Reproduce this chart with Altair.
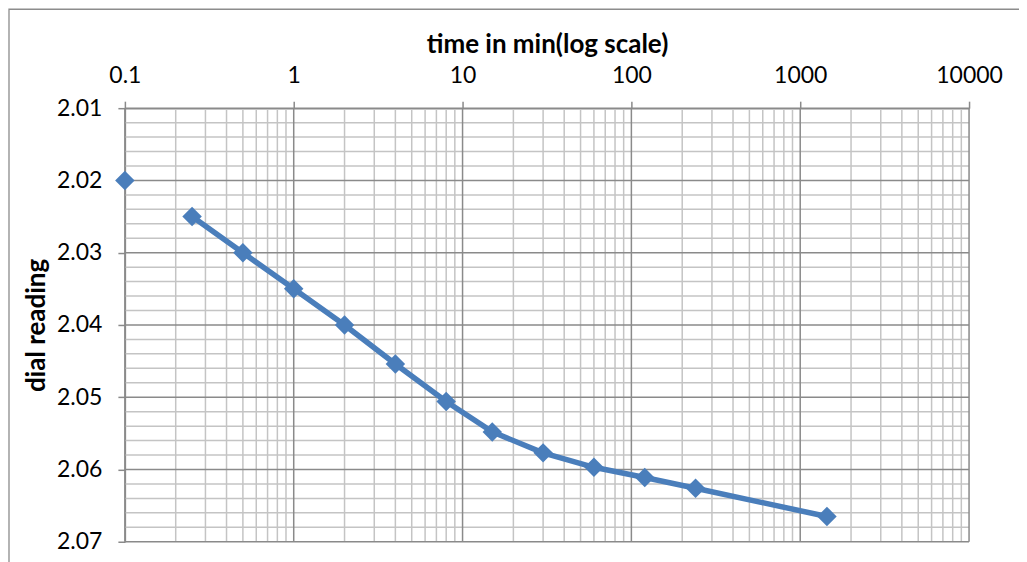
import altair as alt
import pandas as pd

# data
times = [0.1, 0.25, 0.5, 1, 2, 4, 8, 15, 30, 60, 120, 240, 1440]
readings = [2.020, 2.025, 2.030, 2.035, 2.040, 2.0454, 2.0506, 2.0548, 2.0577,
            2.0597, 2.0611, 2.0626, 2.0665]
x_major = [0.1, 1, 10, 100, 1000, 10000]
x_minor = [m * d for d in [0.1, 1, 10, 100, 1000] for m in range(2, 10)]
y_major = [2.01, 2.02, 2.03, 2.04, 2.05, 2.06, 2.07]
y_minor = [round(2.01 + 0.002 * i, 3) for i in range(31) if i % 5 != 0]

df = pd.DataFrame({"t": times, "r": readings})
FONT = "Lato"
BLUE = "#4a7ebb"

xscale = alt.Scale(type="log", domain=[0.1, 10000], nice=False)
yscale = alt.Scale(domain=[2.01, 2.07], reverse=True, nice=False, zero=False)

minor_x = alt.Chart(pd.DataFrame({"v": x_minor})).mark_rule(
    color="#c4c4c4", strokeWidth=1.5).encode(x=alt.X("v:Q", scale=xscale))
minor_y = alt.Chart(pd.DataFrame({"v": y_minor})).mark_rule(
    color="#c4c4c4", strokeWidth=1.5).encode(y=alt.Y("v:Q", scale=yscale))
major_x = alt.Chart(pd.DataFrame({"v": x_major})).mark_rule(
    color="#8a8a8a", strokeWidth=1.5).encode(x=alt.X("v:Q", scale=xscale))
major_y = alt.Chart(pd.DataFrame({"v": y_major})).mark_rule(
    color="#8a8a8a", strokeWidth=1.5).encode(y=alt.Y("v:Q", scale=yscale))

base = alt.Chart(df)
line = base.transform_filter("datum.t > 0.1").mark_line(
    color=BLUE, strokeWidth=5.5).encode(
    x=alt.X("t:Q", scale=xscale,
            axis=alt.Axis(orient="top", values=x_major, format="~g",
                          title="time in min(log scale)")),
    y=alt.Y("r:Q", scale=yscale,
            axis=alt.Axis(values=y_major, format=".2f", title="dial reading")),
)
points = base.mark_point(shape="diamond", filled=True, size=380,
                         color=BLUE, opacity=1).encode(
    x=alt.X("t:Q", scale=xscale), y=alt.Y("r:Q", scale=yscale))

frame = alt.Chart(pd.DataFrame({"a": [0]})).mark_rect(
    fill=None, stroke="#8c8c8c", strokeWidth=1.3).encode(
    x=alt.value(-116), x2=alt.value(1100), y=alt.value(-99), y2=alt.value(700))

chart = alt.layer(frame, minor_x, minor_y, major_x, major_y, line, points).properties(
    width=845, height=434,
    autosize=alt.AutoSizeParams(type="none"),
    padding={"left": 117, "top": 100, "right": 50, "bottom": 22},
).configure_view(stroke=None).configure_axis(
    grid=False, domainColor="#8a8a8a", domainWidth=1.5,
    tickColor="#8a8a8a", tickSize=7, tickWidth=1.5,
    labelFont=FONT, labelFontSize=23, labelColor="#000000",
    titleFont=FONT, titleFontSize=26, titleFontWeight="bold", titleColor="#000000",
).configure_axisX(labelPadding=14, titlePadding=7, labelFlush=False, labelOverlap=False
).configure_axisY(labelPadding=16, titlePadding=7)

chart.save("out.html", embed_options={"renderer": "svg", "actions": False})
